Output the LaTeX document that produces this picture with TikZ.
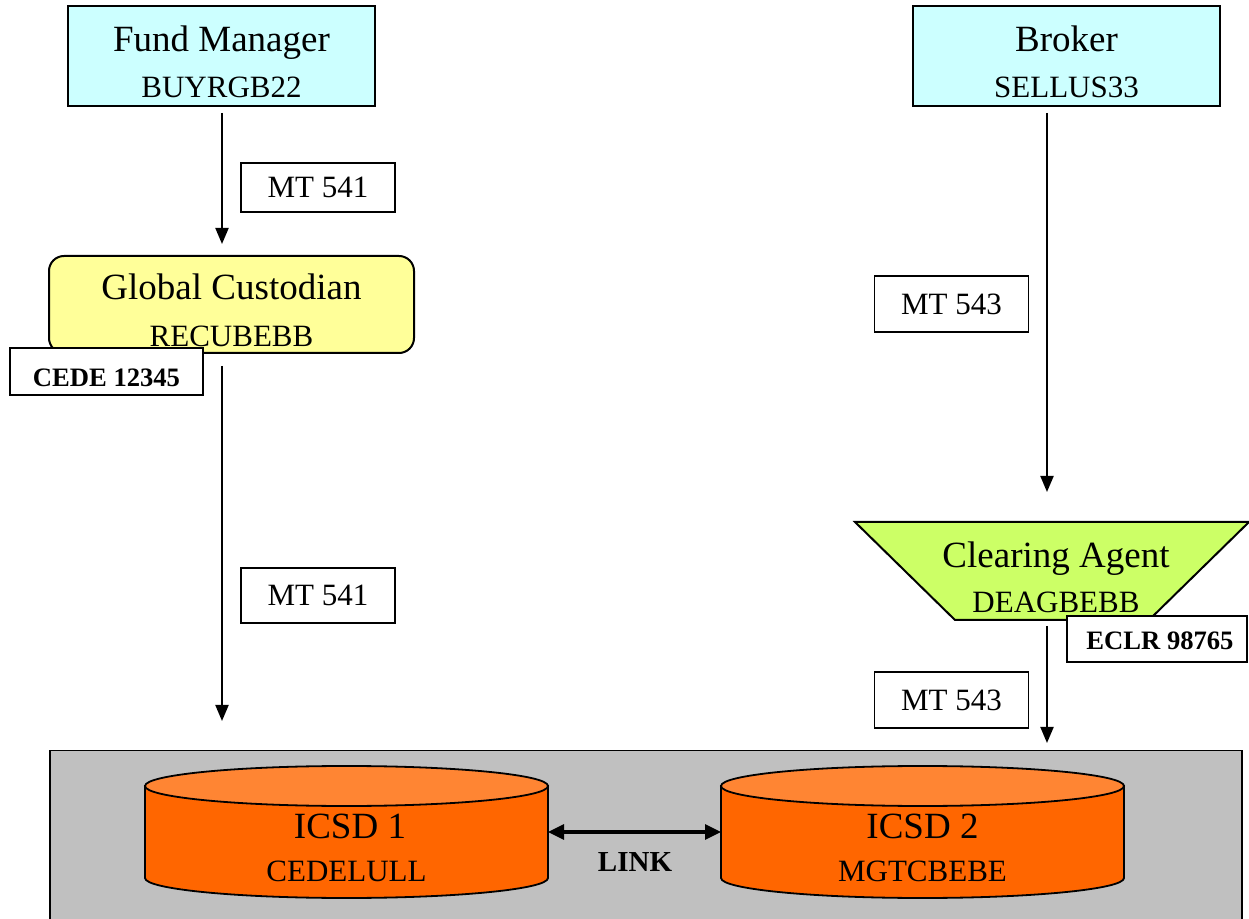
\documentclass[tikz,border=0pt]{standalone}
\usepackage{fontspec}
\setmainfont{Liberation Serif}
\usetikzlibrary{arrows.meta,calc}
\definecolor{partycyan}{HTML}{CCFFFF}
\definecolor{custyellow}{HTML}{FFFF99}
\definecolor{agentgreen}{HTML}{CCFF66}
\definecolor{drumorange}{HTML}{FF6600}
\definecolor{drumlid}{HTML}{FF8533}
\definecolor{csdgray}{HTML}{C0C0C0}
\newcommand\csddrum[1]{%
  \filldraw[drumside] (#1-201.5,786) -- (#1-201.5,878)
    arc[start angle=180,end angle=360,x radius=100.75pt,y radius=10pt]
    -- (#1+201.5,786) -- cycle;
  \filldraw[drumtop] (#1,786) ellipse[x radius=100.75pt,y radius=10pt];}
\begin{document}
\begin{tikzpicture}[x=0.5pt,y=-0.5pt,
  party/.style={draw,line width=1pt,fill=partycyan,minimum width=153.5pt,minimum height=50pt,inner sep=0},
  custbox/.style={draw,line width=1pt,fill=custyellow,rounded corners=7.5pt,minimum width=182.5pt,minimum height=48.5pt,inner sep=0},
  title/.style={anchor=base,inner sep=0,font=\fontsize{18.5}{22}\selectfont},
  code/.style={anchor=base,inner sep=0,font=\fontsize{15.5}{18}\selectfont},
  msg/.style={draw,line width=0.75pt,fill=white,minimum width=77pt,inner sep=0,font=\fontsize{15.5}{18}\selectfont},
  acct/.style={draw,line width=0.9pt,fill=white,inner sep=0},
  accttext/.style={anchor=base,inner sep=0,font=\bfseries\fontsize{13.3}{15}\selectfont},
  flow/.style={line width=1pt,-{Triangle[length=8pt,width=6.5pt]}},
  link/.style={line width=1.6pt,{Triangle[length=8pt,width=7.5pt]}-{Triangle[length=8pt,width=7.5pt]}},
  drumside/.style={draw,line width=0.9pt,fill=drumorange},
  drumtop/.style={draw,line width=0.9pt,fill=drumlid},
  ghost/.style={inner sep=0,outer sep=0}]
\useasboundingbox (0,0) rectangle (1249,919);
\clip (0,0) rectangle (1249,919);

% settlement area holding the two ICSDs
\node[draw,line width=0.75pt,fill=csdgray,minimum width=596pt,minimum height=95pt,anchor=north west,inner sep=0] (csd) at (49,750) {};

% instructing parties
\node[party] (fm) at (221.5,56) {};
\node[title] (fmT) at (221.5,52) {Fund Manager};
\node[code] (fmC) at (221.5,98) {BUYRGB22};
\node[party] (br) at (1066.5,56) {};
\node[title] (brT) at (1066.5,52) {Broker};
\node[code] (brC) at (1066.5,98) {SELLUS33};

% global custodian
\node[custbox] (gc) at (231.5,304.5) {};
\node[title] (gcT) at (231.5,300) {Global Custodian};
\node[code] (gcC) at (231.5,347) {RECUBEBB};
\node[acct,minimum width=96.5pt,minimum height=23.5pt] (cede) at (106.5,371.5) {};
\node[accttext] (cedeT) at (106.5,387) {CEDE 12345};

% clearing agent
\node[ghost,minimum width=197pt,minimum height=49pt] (ca) at (1052,571) {};
\filldraw[line width=1pt,fill=agentgreen] (ca.north west) -- (ca.north east)
  -- ([xshift=-50pt]ca.south east) -- ([xshift=50pt]ca.south west) -- cycle;
\node[title] (caT) at (1056,568) {Clearing Agent};
\node[code] (caC) at (1056,613) {DEAGBEBB};
\node[acct,minimum width=90pt,minimum height=23pt] (eclr) at (1157,639) {};
\node[accttext] (eclrT) at (1160,650) {ECLR 98765};

% message flows
\coordinate (lc) at (222,0);
\coordinate (rc) at (1047,0);
\draw[flow,shorten <=3pt,shorten >=5.5pt] (lc |- fm.south) -- (lc |- gc.north);
\draw[flow,shorten <=6pt,shorten >=14.5pt] (lc |- gc.south) -- (lc |- csd.north);
\draw[flow,shorten <=3pt,shorten >=15pt] (rc |- br.south) -- (rc |- ca.north);
\draw[flow,shorten <=3pt,shorten >=3.5pt] (rc |- ca.south) -- (rc |- csd.north);

\node[msg,minimum height=24.5pt] (m1) at (318,187.5) {MT 541};
\node[msg,minimum height=27.5pt] (m2) at (318,595.5) {MT 541};
\node[msg,minimum height=28pt] (m3) at (951.5,304) {MT 543};
\node[msg,minimum height=28pt] (m4) at (951.5,700) {MT 543};

% the two ICSDs and their link
\csddrum{346.5}
\csddrum{922.5}
\node[ghost,minimum width=201.5pt,minimum height=66pt] (icsd1) at (346.5,832) {};
\node[ghost,minimum width=201.5pt,minimum height=66pt] (icsd2) at (922.5,832) {};
\node[title] (i1T) at (350,838) {ICSD 1};
\node[code] (i1C) at (346.5,881) {CEDELULL};
\node[title] (i2T) at (922.5,838) {ICSD 2};
\node[code] (i2C) at (922.5,881) {MGTCBEBE};
\draw[link] (icsd1.east) -- (icsd2.west);
\node[accttext,font=\bfseries\fontsize{14.5}{16}\selectfont] (linkT) at (635,871) {LINK};
\end{tikzpicture}
\end{document}
